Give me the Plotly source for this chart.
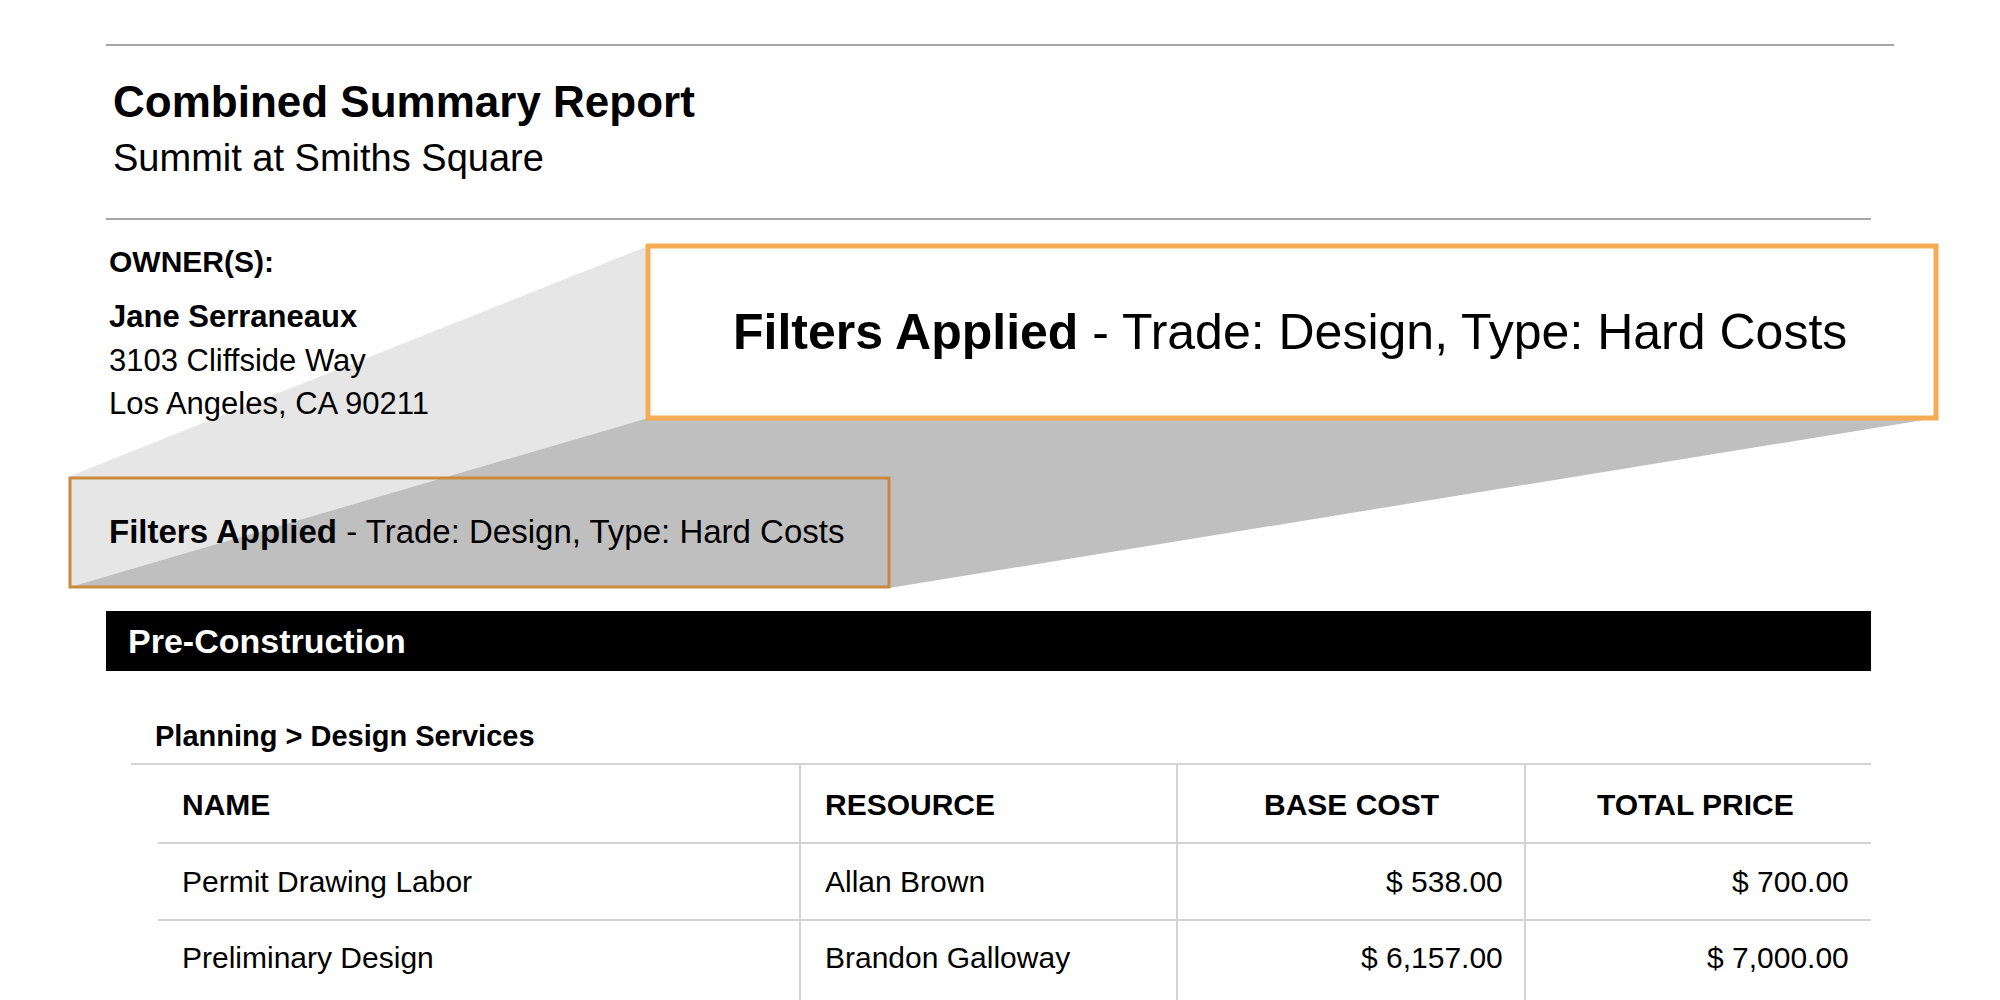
import plotly.graph_objects as go

# report content
title = "Combined Summary Report"
subtitle = "Summit at Smiths Square"
owner_name = "Jane Serraneaux"
owner_address = ["3103 Cliffside Way", "Los Angeles, CA 90211"]
filter_text = "Trade: Design, Type: Hard Costs"
section = "Pre-Construction"
group = "Planning > Design Services"
headers = ["NAME", "RESOURCE", "BASE COST", "TOTAL PRICE"]
names = ["Permit Drawing Labor", "Preliminary Design"]
resources = ["Allan Brown", "Brandon Galloway"]
base_costs = ["$ 538.00", "$ 6,157.00"]
total_prices = ["$ 700.00", "$ 7,000.00"]

FONT = "Arial, Liberation Sans, sans-serif"
fig = go.Figure()
shapes = []
ann = []


def text(x, y, s, size, xanchor="left", color="black"):
    ann.append(dict(x=x, y=y, text=s, showarrow=False, xanchor=xanchor, yanchor="middle",
                    font=dict(family=FONT, size=size, color=color)))


def line(x0, y0, x1, y1, color="#d3d3d3", width=2):
    shapes.append(dict(type="line", x0=x0, y0=y0, x1=x1, y1=y1, line=dict(color=color, width=width)))


# header rules
line(98, 37, 1886, 37, "#a6a6a6", 2)
line(98, 211, 1863, 211, "#a6a6a6", 2)
text(103, 93, "<b>" + title + "</b>", 44)
text(103, 150, subtitle, 38)

text(99, 253, "<b>OWNER(S):</b>", 30)
text(99, 308, "<b>" + owner_name + "</b>", 31)
for i, a in enumerate(owner_address):
    text(99, 352 + i * 43, a, 31)

# zoom callout polygons
shapes.append(dict(type="path", path="M 62 468 L 640 238 L 640 410 L 62 579 Z",
                   fillcolor="#e6e6e6", line=dict(width=0), layer="below"))
shapes.append(dict(type="path", path="M 62 579 L 640 410 L 1928 410 L 881 580 Z",
                   fillcolor="#bfbfbf", line=dict(width=0), layer="below"))
shapes.append(dict(type="rect", x0=62, y0=470, x1=881, y1=579,
                   line=dict(color="#c98a3e", width=3)))
shapes.append(dict(type="rect", x0=640, y0=238, x1=1928, y1=410, fillcolor="white",
                   line=dict(color="#f5ad55", width=5)))
text(99, 523, "<b>Filters Applied</b> - " + filter_text, 33)
text(1282, 324, "<b>Filters Applied</b> - " + filter_text, 50, "center")

# section bar
shapes.append(dict(type="rect", x0=98, y0=603, x1=1863, y1=663, fillcolor="black", line=dict(width=0)))
text(118, 633, "<b>" + section + "</b>", 34, color="white")
text(145, 728, "<b>" + group + "</b>", 29)

# table
line(123, 756, 1863, 756)
line(150, 835, 1863, 835)
line(150, 912, 1863, 912)
for vx in [792, 1169, 1517]:
    line(vx, 756, vx, 1000)

hx = [(172, "left"), (815, "left"), (1343, "center"), (1687, "center")]
for (x, xa), h in zip(hx, headers):
    text(x, 796, "<b>" + h + "</b>", 30, xa)

for i in range(len(names)):
    y = 873 + i * 76
    text(172, y, names[i], 30)
    text(815, y, resources[i], 30)
    text(1497, y, base_costs[i], 30, "right")
    text(1843, y, total_prices[i], 30, "right")

fig.update_layout(
    width=2000, height=1000,
    margin=dict(l=0, r=0, t=0, b=0),
    plot_bgcolor="white", paper_bgcolor="white",
    xaxis=dict(range=[0, 2000], visible=False, fixedrange=True),
    yaxis=dict(range=[1000, 0], visible=False, fixedrange=True),
    shapes=shapes, annotations=ann, showlegend=False,
)
fig.write_html("out.html")
